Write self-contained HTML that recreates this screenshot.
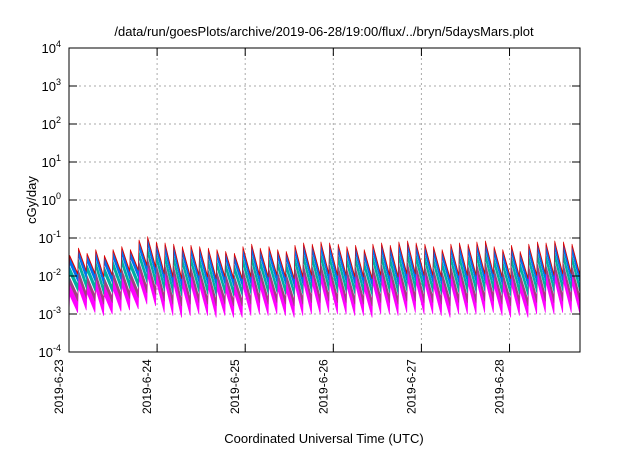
<!DOCTYPE html>
<html><head><meta charset="utf-8"><style>
body{margin:0;background:#fff;}
svg text{font-family:"Liberation Sans",sans-serif;fill:#000;}
</style></head><body>
<svg width="640" height="448" viewBox="0 0 640 448" xmlns="http://www.w3.org/2000/svg">
<text x="324" y="36" font-size="13" text-anchor="middle">/data/run/goesPlots/archive/2019-06-28/19:00/flux/../bryn/5daysMars.plot</text>
<g id="grid"></g>
<g id="series"></g>
<rect x="69" y="48" width="511" height="304" fill="none" stroke="#000" stroke-width="1"/>
<g id="axes"></g>
<text transform="translate(36,200) rotate(-90)" font-size="13" text-anchor="middle">cGy/day</text>
<text x="324" y="443" font-size="13" text-anchor="middle">Coordinated Universal Time (UTC)</text>
</svg>
<script>
const xTickLabels=["2019-6-23","2019-6-24","2019-6-25","2019-6-26","2019-6-27","2019-6-28"];
const yExponents=[-4,-3,-2,-1,0,1,2,3,4];
const peaks=[0.035,0.055,0.04,0.05,0.035,0.05,0.06,0.05,0.09,0.11,0.08,0.075,0.07,0.06,0.065,0.06,0.055,0.05,0.045,0.04,0.06,0.07,0.055,0.06,0.05,0.045,0.065,0.075,0.07,0.08,0.075,0.07,0.06,0.065,0.05,0.07,0.075,0.065,0.08,0.085,0.075,0.07,0.06,0.05,0.07,0.075,0.07,0.08,0.085,0.06,0.05,0.065,0.045,0.07,0.08,0.075,0.085,0.08,0.07];
const troughs=[0.012,0.014,0.012,0.010,0.011,0.013,0.014,0.015,0.02,0.018,0.012,0.01,0.009,0.01,0.011,0.01,0.009,0.01,0.009,0.009,0.01,0.011,0.01,0.011,0.01,0.009,0.01,0.011,0.011,0.012,0.011,0.011,0.01,0.01,0.009,0.011,0.011,0.01,0.012,0.012,0.011,0.011,0.01,0.009,0.011,0.011,0.011,0.012,0.012,0.01,0.009,0.01,0.009,0.011,0.012,0.011,0.012,0.012,0.011];
const seriesNames=["magenta","purple","teal","blue","red"];
const seriesColors=["#ff00ff","#a04080","#00b0a0","#0070f0","#e00000"];
const seriesHigh=[0.17,0.26,0.5,0.88,1.0];
const seriesLow=[0.09,0.18,0.33,0.6,0.93];
const X0=69,X1=580,Y0=48,Y1=352,days=5.8;
const NS="http://www.w3.org/2000/svg";
function xs(d){return X0+(d/days)*(X1-X0);}
function ys(v){return Y1-(Math.log10(v)+4)/8*(Y1-Y0);}
function mk(t,a,p){const e=document.createElementNS(NS,t);for(const k in a)e.setAttribute(k,a[k]);p.appendChild(e);return e;}
const grid=document.getElementById('grid'),axes=document.getElementById('axes'),sg=document.getElementById('series');
xTickLabels.forEach((lab,i)=>{const x=xs(i);
 if(i>0){const g=mk('line',{x1:x,x2:x,y1:Y0,y2:Y1,stroke:'#aaa','stroke-dasharray':'2,3'},grid);
 }
 const t=mk('line',{x1:x,x2:x,y1:Y1,y2:Y1-8,stroke:'#000'},axes);
 
 const t2=mk('line',{x1:x,x2:x,y1:Y0,y2:Y0+8,stroke:'#000'},axes);
 
 const tx=mk('text',{transform:`translate(${x-6},${Y1+62}) rotate(-90)`,'font-size':12},axes);
 tx.textContent=lab;});
yExponents.forEach(e=>{const y=ys(Math.pow(10,e));
 if(e>-4&&e<4){const g=mk('line',{x1:X0,x2:X1,y1:y,y2:y,stroke:'#aaa','stroke-dasharray':'2,3'},grid);
 }
 const t=mk('line',{x1:X0,x2:X0+8,y1:y,y2:y,stroke:'#000'},axes);
 
 const t2=mk('line',{x1:X1,x2:X1-8,y1:y,y2:y,stroke:'#000'},axes);
 
 const tx=mk('text',{x:X0-8,y:y+5,'font-size':13,'text-anchor':'end'},axes);
 tx.innerHTML='10<tspan dy="-6" font-size="9">'+e+'</tspan>';
 });
const n=peaks.length,cw=days/n;
function line(f){const pts=[];for(let i=0;i<n;i++){const d=i*cw;pts.push([xs(d),ys(troughs[Math.max(0,i-1)]*f)]);pts.push([xs(d+cw*0.08),ys(peaks[i]*f)]);}
 pts.push([xs(days),ys(troughs[n-1]*f)]);return pts;}
seriesNames.forEach((nm,s)=>{const up=line(seriesHigh[s]),lo=line(seriesLow[s]).reverse();
 const p=mk('polygon',{points:up.concat(lo).map(q=>q[0].toFixed(1)+','+q[1].toFixed(1)).join(' '),fill:seriesColors[s],stroke:seriesColors[s],'stroke-width':0.6},sg);
 });
</script>
</body></html>
